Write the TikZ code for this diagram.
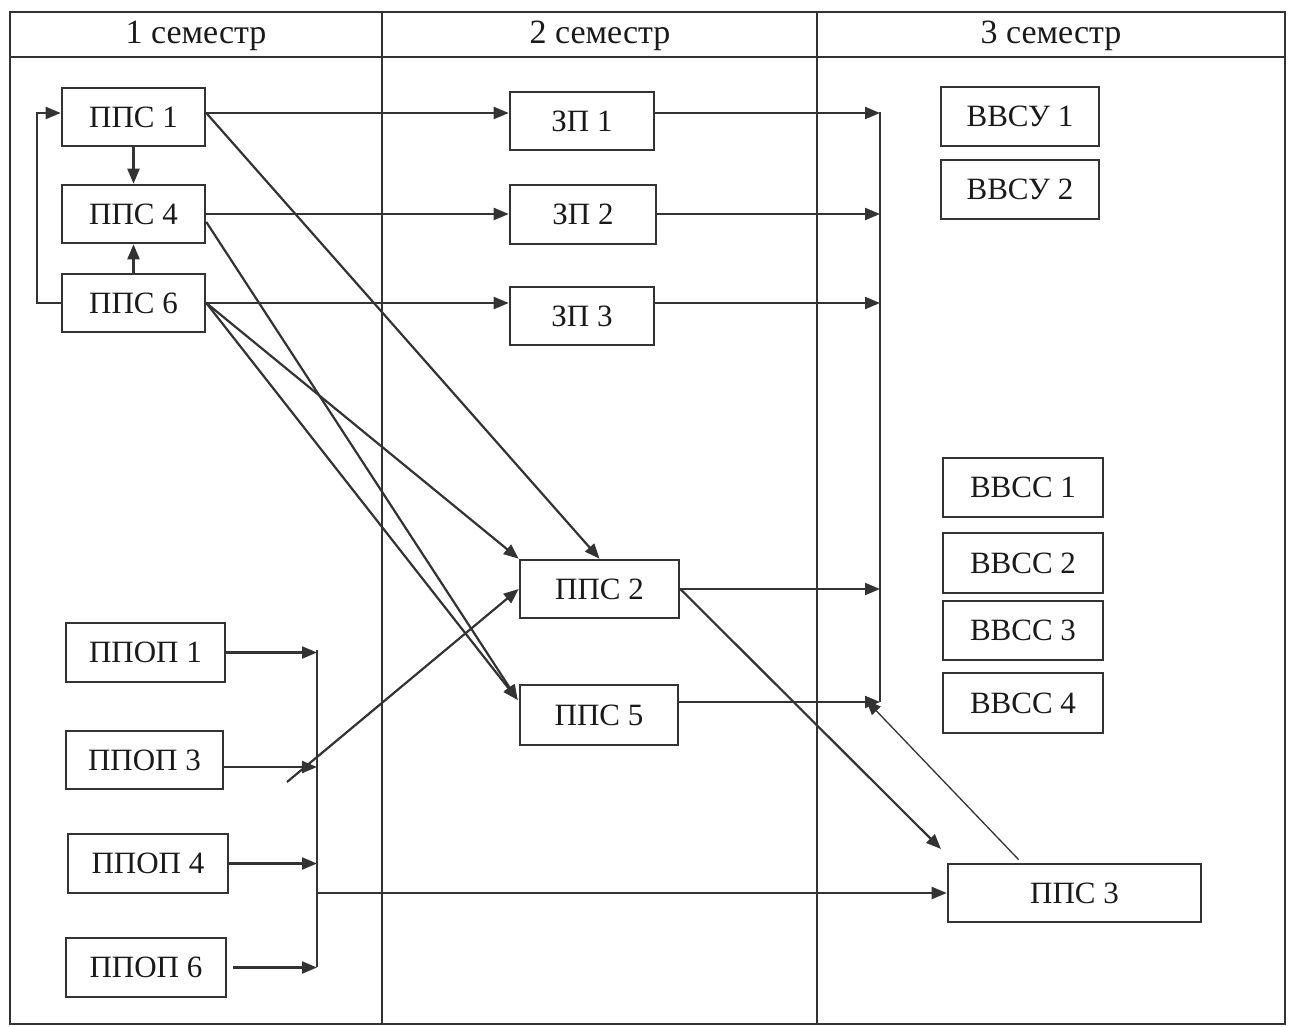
\documentclass[tikz,border=0pt]{standalone}
\usepackage{fontspec}
\setmainfont{Liberation Serif}
\usetikzlibrary{arrows.meta,calc}
\definecolor{lc}{HTML}{333333}
\definecolor{tc}{HTML}{1A1A1A}
\newcommand{\lblfont}{\fontsize{31}{34}\selectfont}
\newcommand{\hdrfont}{\fontsize{34}{38}\selectfont}
\begin{document}
\begin{tikzpicture}[x=1pt,y=-1pt,
  ln/.style={line width=2.2pt, draw=lc},
  arr/.style={ln, -{Triangle[length=15pt,width=12pt]}},
  thinarr/.style={line width=1.3pt, draw=lc, -{Triangle[length=15pt,width=12pt]}},
  frame/.style={line width=2.8pt, draw=lc},
  box/.style={draw=lc, line width=2.6pt, inner sep=0pt, font=\lblfont, text=tc},
  hdr/.style={font=\hdrfont, text=tc, inner sep=0pt},
  ]
\useasboundingbox (0,0) rectangle (1293,1026);
\fill[white] (0,0) rectangle (1293,1026);

% table
\draw[frame] (10,12) rectangle (1285,1024);
\draw[frame] (10,57) -- (1285,57);
\draw[ln] (382,12) -- (382,1024);
\draw[ln] (817,12) -- (817,1024);
\node[hdr] (h1) at (196,36) {1 семестр};
\node[hdr] (h2) at (600,36) {2 семестр};
\node[hdr] (h3) at (1051,36) {3 семестр};

% semester 1
\node[box, minimum width=143, minimum height=58] (pps1) at (133.5,117) {ППС 1};
\node[box, minimum width=143, minimum height=58] (pps4) at (133.5,214) {ППС 4};
\node[box, minimum width=143, minimum height=58] (pps6) at (133.5,303) {ППС 6};
\node[box, minimum width=159, minimum height=59] (ppop1) at (145.5,652.5) {ППОП 1};
\node[box, minimum width=157, minimum height=58] (ppop3) at (144.5,760) {ППОП 3};
\node[box, minimum width=160, minimum height=59] (ppop4) at (148,863.5) {ППОП 4};
\node[box, minimum width=160, minimum height=59] (ppop6) at (146,967.5) {ППОП 6};

% semester 2
\node[box, minimum width=144, minimum height=58] (zp1) at (582,121) {ЗП 1};
\node[box, minimum width=146, minimum height=59] (zp2) at (583,214.5) {ЗП 2};
\node[box, minimum width=144, minimum height=58] (zp3) at (582,316) {ЗП 3};
\node[box, minimum width=159, minimum height=58] (pps2) at (599.5,589) {ППС 2};
\node[box, minimum width=158, minimum height=60] (pps5) at (599,715) {ППС 5};

% semester 3
\node[box, minimum width=158, minimum height=59] (vvsu1) at (1020,116.5) {ВВСУ 1};
\node[box, minimum width=158, minimum height=59] (vvsu2) at (1020,189.5) {ВВСУ 2};
\node[box, minimum width=160, minimum height=59] (vvss1) at (1023,487.5) {ВВСС 1};
\node[box, minimum width=160, minimum height=60] (vvss2) at (1023,563) {ВВСС 2};
\node[box, minimum width=160, minimum height=59] (vvss3) at (1023,630.5) {ВВСС 3};
\node[box, minimum width=160, minimum height=60] (vvss4) at (1023,703) {ВВСС 4};
\node[box, minimum width=253, minimum height=58] (pps3) at (1074.5,893) {ППС 3};

% semester 1 internal
\coordinate (p1l) at ($(pps1.west)+(0,-4)$);
\draw[arr] (pps6.west) -- ++(-24,0) |- (p1l);
\draw[arr] (pps1.south) -- (pps4.north);
\draw[arr] (pps6.north) -- (pps4.south);

% to ZP
\coordinate (p1r) at ($(pps1.east)+(0,-4)$);
\draw[arr] (p1r) -- (p1r -| zp1.west);
\draw[arr] (pps4.east) -- (pps4.east -| zp2.west);
\draw[arr] (pps6.east) -- (pps6.east -| zp3.west);

% diagonals
\coordinate (p5l) at ($(pps5.west)+(-1,-15)$);
\draw[arr] (p1r) -- (pps2.north);
\draw[arr] (pps6.east) -- (pps2.north west);
\draw[arr] ($(pps4.east)+(0,8)$) -- (p5l);
\draw[arr] (pps6.east) -- (p5l);

% right bus
\coordinate (bt) at (880,112);
\coordinate (bb) at (880,702);
\draw[ln] (bt) -- (bb);
\draw[arr] (p1r -| zp1.east) -- (p1r -| bt);
\draw[arr] (pps4.east -| zp2.east) -- (pps4.east -| bt);
\draw[arr] (pps6.east -| zp3.east) -- (pps6.east -| bt);
\draw[arr] (pps2.east) -- (pps2.east -| bt);
\coordinate (p5r) at ($(pps5.east)+(0,-13)$);
\draw[arr] (p5r) -- (p5r -| bt);

% left bus
\coordinate (lt) at (317,650);
\coordinate (lb) at (317,967);
\draw[ln] (lt) -- (lb);
\draw[arr] (ppop1.east) -- (ppop1.east -| lt);
\coordinate (pp3r) at ($(ppop3.east)+(0,7)$);
\draw[arr] (pp3r) -- (pp3r -| lt);
\draw[arr] (ppop4.east) -- (ppop4.east -| lt);
\draw[arr, shorten <=6pt] (ppop6.east) -- (ppop6.east -| lt);
\draw[arr] (pps3.west -| lt) -- (pps3.west);

% other links
\coordinate (d0) at (287,782);
\draw[arr] (d0) -- (pps2.west);
\coordinate (p3in) at (941,849);
\draw[arr] (pps2.east) -- (p3in);
\coordinate (busin) at (866,700);
\draw[thinarr] ($(pps3.north west)+(72,-3)$) -- (busin);
\end{tikzpicture}
\end{document}
